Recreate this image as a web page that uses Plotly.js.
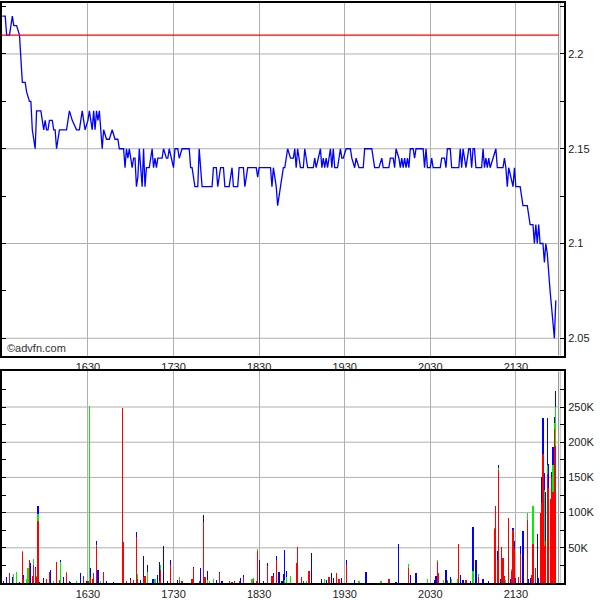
<!DOCTYPE html>
<html>
<head>
<meta charset="utf-8">
<script src="https://cdn.plot.ly/plotly-3.0.1.min.js"></script>
<style>html,body{margin:0;padding:0;background:#fff;}#chart{width:600px;height:600px;}</style>
</head>
<body>
<div id="chart"></div>
<script>
// ---- Data (minutes after 15:30) ----
const priceMinutes = [0,2,3,5,7,8,10,12,14,16,17,19,20,21,23,24,27,29,30,31,32,33,35,36,37,38,40,45,47,49,52,54,56,58,60,61,63,64,65,66,67,68,70,71,73,75,77,79,81,82,85,86,87,88,89,91,92,93,94,95,96,98,99,100,101,103,105,106,107,108,109,112,113,115,116,117,120,121,123,124,126,131,132,133,135,137,138,
140,144,147,148,150,151,153,155,156,159,161,162,165,166,169,170,172,178,179,180,188,189,190,192,193,195,197,198,200,202,204,205,206,207,209,211,212,214,218,219,220,223,224,225,226,227,228,230,231,232,233,235,237,238,239,241,244,245,247,248,250,253,254,259,261,264,266,267,271,272,274,275,276,278,
279,280,281,282,283,284,285,286,288,289,290,295,296,297,298,300,301,302,307,308,310,311,312,314,315,320,321,322,323,325,327,328,329,330,331,332,336,337,338,339,340,341,342,346,347,351,352,353,354,355,358,359,360,363,365,368,370,372,373,374,375,376,377,379,380,381,382,384,386,387,388];
const prices = [2.22,2.22,2.21,2.21,2.22,2.215,2.215,2.21,2.185,2.185,2.18,2.175,2.175,2.16,2.15,2.17,2.17,2.16,2.165,2.16,2.16,2.165,2.165,2.16,2.16,2.15,2.16,2.16,2.17,2.165,2.16,2.16,2.17,2.16,2.165,2.17,2.16,2.17,2.16,2.17,2.165,2.17,2.15,2.16,2.155,2.155,2.16,2.155,2.155,2.15,2.15,2.14,2.15,2.145,2.15,2.14,2.145,2.145,2.13,2.135,2.15,2.13,2.15,2.13,2.14,2.14,2.15,2.14,2.145,2.14,2.145,2.145,2.15,2.145,2.145,2.15,2.14,2.15,2.15,2.145,2.15,2.15,2.14,2.14,2.13,2.13,2.15,
2.13,2.13,2.13,2.14,2.14,2.13,2.14,2.14,2.13,2.13,2.14,2.13,2.13,2.14,2.14,2.13,2.14,2.14,2.135,2.14,2.14,2.13,2.14,2.13,2.12,2.13,2.14,2.14,2.15,2.145,2.145,2.15,2.14,2.15,2.14,2.14,2.15,2.14,2.14,2.145,2.14,2.15,2.14,2.145,2.14,2.145,2.14,2.15,2.14,2.15,2.14,2.14,2.15,2.145,2.145,2.15,2.15,2.145,2.14,2.145,2.14,2.14,2.15,2.15,2.14,2.14,2.145,2.14,2.14,2.145,2.145,2.14,2.15,2.145,
2.14,2.145,2.14,2.145,2.14,2.145,2.14,2.15,2.15,2.145,2.15,2.15,2.14,2.15,2.14,2.14,2.145,2.14,2.14,2.145,2.145,2.14,2.15,2.15,2.14,2.14,2.15,2.14,2.15,2.14,2.15,2.15,2.14,2.15,2.15,2.14,2.14,2.15,2.14,2.145,2.14,2.145,2.14,2.15,2.14,2.14,2.145,2.14,2.13,2.14,2.13,2.14,2.13,2.13,2.12,2.12,2.11,2.11,2.1,2.11,2.1,2.11,2.1,2.1,2.09,2.1,2.095,2.075,2.06,2.05,2.07];
const prevClose = 2.21;

const volMinutes = [1,3,5,7,8,10,12,14,15,17,18,19,20,21,22,23,24,25,26,29,31,33,34,36,38,40,41,43,45,47,48,52,55,57,59,60,61,62,63,64,66,67,69,71,73,78,84,85,87,90,92,94,95,97,99,100,102,105,106,107,109,110,111,113,116,118,123,124,126,133,134,138,139,141,142,144,145,148,150,152,154,159,161,163,166,167,169,175,176,178,179,180,183,186,189,190,192,194,196,197,198,199,202,206,207,210,211,213,215,217,224,226,227,229,231,232,234,236,238,241,247,250,255,265,266,271,276,278,285,286,290,298,303,304,305,306,309,311,312,314,315,319,320,321,323,325,328,330,332,334,337,341,345,346,347,348,349,350,351,352,353,355,356,357,358,359,360,362,363,365,368,369,370,371,372,374,375,376,377,378,379,380,381,382,383,384,385,386,387,388];
const volRedK =   [0,0,14,0,0,0,0,44,5,0,0,32,0,10,25,21,9,88,0,0,6,16,0,0,30,4,0,0,14,0,0,0,0,10,0,3,0,8,6,14,52,0,0,15,0,0,248,58,3,4,4,65,5,0,8,10,0,0,0,0,0,3,18,0,0,25,0,4,3,5,21,3,0,86,9,0,0,0,0,14,0,3,2,3,3,0,8,0,4,3,46,0,0,24,10,8,33,0,0,0,0,0,0,29,51,8,3,0,17,0,0,0,0,8,0,0,14,6,0,25,0,0,0,0,0,5,0,0,21,0,0,0,0,0,30,14,0,0,3,0,0,0,55,0,0,4,0,0,0,8,0,0,77,109,32,160,0,51,36,10,0,92,0,17,76,49,0,8,41,0,89,0,0,12,55,21,0,0,100,113,183,53,60,155,135,119,150,129,219,195];
const volGreenK = [0,0,0,0,13,15,0,1,0,6,21,1,0,0,9,0,1,10,0,0,0,0,0,3,0,0,30,0,1,0,0,3,0,0,0,0,252,0,0,0,2,0,3,0,0,0,0,0,0,0,0,0,8,0,0,0,15,0,0,6,0,0,7,0,0,0,0,4,0,0,0,0,0,0,0,4,3,6,0,0,0,0,0,0,0,0,0,5,3,0,3,0,0,0,0,0,0,0,0,0,4,8,10,0,0,0,0,3,0,0,0,6,0,0,0,0,0,0,0,0,0,3,0,3,3,0,0,0,6,0,0,6,0,0,2,0,4,0,1,0,6,6,0,0,0,0,0,17,0,5,0,0,1,0,0,3,0,0,0,0,4,0,0,3,0,0,0,0,0,0,10,0,0,0,55,0,0,0,0,0,0,79,0,12,0,0,0,38,9,55];
const volBlueK =  [3,8,0,8,0,0,2,0,6,0,0,0,29,0,0,2,0,11,2,7,0,0,19,0,0,0,3,8,0,3,2,0,14,0,3,0,0,13,0,0,6,19,0,0,3,2,0,0,0,3,0,8,0,4,31,0,10,5,5,0,12,27,0,52,3,7,4,0,0,0,2,0,21,11,0,13,0,0,4,1,3,0,0,0,0,7,4,0,0,0,0,32,3,4,0,6,5,15,3,13,43,9,0,0,0,0,0,0,0,42,6,0,4,0,14,7,0,0,7,8,4,0,16,0,0,0,2,55,0,12,14,0,4,10,0,0,0,19,0,8,0,0,0,11,4,0,3,62,33,0,6,3,0,0,13,4,5,0,0,0,0,0,5,0,2,11,7,0,11,74,0,6,7,0,0,0,70,7,0,37,52,24,69,68,34,0,7,26,8,23];

const priceTicks = [2.05,2.075,2.1,2.125,2.15,2.175,2.2,2.225];
const priceTickText = ['2.05','','2.1','','2.15','','2.2',''];
const volTicks = [25,50,75,100,125,150,175,200,225,250,275];
const volTickText = ['','50K','','100K','','150K','','200K','','250K',''];
const timeTicks = ['16:30','17:30','18:30','19:30','20:30','21:30'];
const sessionStart = '15:30';
const sessionEnd = '22:00';

// ---- helpers ----
const DAY = '2024-01-02 ';
function pad(n){return (n<10?'0':'')+n;}
function minToDate(m){
  const base = 15*60+30;
  const tot = base*60 + Math.round(m*60);
  const h = Math.floor(tot/3600), mi = Math.floor((tot%3600)/60), s = tot%60;
  return DAY + pad(h)+':'+pad(mi)+':'+pad(s);
}
function hm(t){return DAY + t + ':00';}

const xRange = [DAY+'15:29:45', DAY+'22:03:45'];
const FONT = 'Liberation Sans, Arial, sans-serif';

const traces = [
  {x: priceMinutes.map(minToDate), y: prices, type:'scatter', mode:'lines',
   line:{color:'#0000ff', width:1.3}, xaxis:'x', yaxis:'y', hoverinfo:'skip'},
  {x: volMinutes.map(minToDate), y: volRedK, type:'bar', marker:{color:'#ff0000', line:{width:0}},
   width: 50000, xaxis:'x2', yaxis:'y2', hoverinfo:'skip'},
  {x: volMinutes.map(minToDate), y: volGreenK, type:'bar', marker:{color:'#00ee00', line:{width:0}},
   width: 50000, xaxis:'x2', yaxis:'y2', hoverinfo:'skip'},
  {x: volMinutes.map(minToDate), y: volBlueK, type:'bar', marker:{color:'#0000ff', line:{width:0}},
   width: 50000, xaxis:'x2', yaxis:'y2', hoverinfo:'skip'}
];

const shapes = [];
[2.05,2.1,2.15,2.2].forEach(v=>shapes.push({type:'line', xref:'x', yref:'y', x0:xRange[0], x1:hm(sessionEnd), y0:v, y1:v, line:{color:'#b0b0b0', width:1}, layer:'below'}));
[50,100,150,200,250].forEach(v=>shapes.push({type:'line', xref:'x2', yref:'y2', x0:xRange[0], x1:hm(sessionEnd), y0:v, y1:v, line:{color:'#b0b0b0', width:1}, layer:'below'}));
shapes.push({type:'line', xref:'x', yref:'y', x0:xRange[0], x1:hm(sessionEnd), y0:prevClose, y1:prevClose, line:{color:'#ff0000', width:1.2}});
['x','x2'].forEach((xr,i)=>{
  const yr = i===0?'y domain':'y2 domain';
  shapes.push({type:'line', xref:xr, yref:yr, x0:hm(sessionEnd), x1:hm(sessionEnd), y0:0, y1:1, line:{color:'#8a8a8a', width:1}, layer:'below'});
  shapes.push({type:'line', xref:xr, yref:yr, x0:DAY+'22:01:25', x1:DAY+'22:01:25', y0:0, y1:1, line:{color:'#c4c4c4', width:1}, layer:'below'});
});

const xCommon = {type:'date', range:xRange, tickvals:timeTicks.map(hm), tickformat:'%H%M',
  showgrid:true, gridcolor:'#b0b0b0', gridwidth:1, ticks:'', showline:true, mirror:true,
  linecolor:'#000', linewidth:2, zeroline:false, tickfont:{family:FONT, size:11, color:'#222'}, fixedrange:true};

const layout = {
  width:600, height:600,
  margin:{l:2, r:36, t:3, b:17},
  paper_bgcolor:'#fff', plot_bgcolor:'#fff',
  showlegend:false, barmode:'stack', bargap:0,
  font:{family:FONT, size:11, color:'#222'},
  xaxis: Object.assign({}, xCommon, {anchor:'y'}),
  xaxis2: Object.assign({}, xCommon, {anchor:'y2'}),
  yaxis: {domain:[0.3922,1], range:[2.0409,2.2269], side:'right', tickvals:priceTicks, ticktext:priceTickText,
    ticks:'inside', ticklen:4, tickwidth:1, tickcolor:'#000', showgrid:false, zeroline:false,
    showline:true, mirror:'ticks', linecolor:'#000', linewidth:2, tickfont:{family:FONT,size:11,color:'#222'}, fixedrange:true},
  yaxis2: {domain:[0,0.3647], range:[0,300.5], side:'right', tickvals:volTicks, ticktext:volTickText,
    ticks:'inside', ticklen:4, tickwidth:1, tickcolor:'#000', showgrid:false, zeroline:false,
    showline:true, mirror:'ticks', linecolor:'#000', linewidth:2, tickfont:{family:FONT,size:11,color:'#222'}, fixedrange:true},
  shapes: shapes,
  annotations:[{text:'©advfn.com', xref:'paper', yref:'paper', x:0.005, y:0.405, xanchor:'left', yanchor:'middle',
    showarrow:false, font:{family:FONT, size:11, color:'#333'}}]
};

Plotly.newPlot('chart', traces, layout, {staticPlot:true, displayModeBar:false});
</script>
</body>
</html>
